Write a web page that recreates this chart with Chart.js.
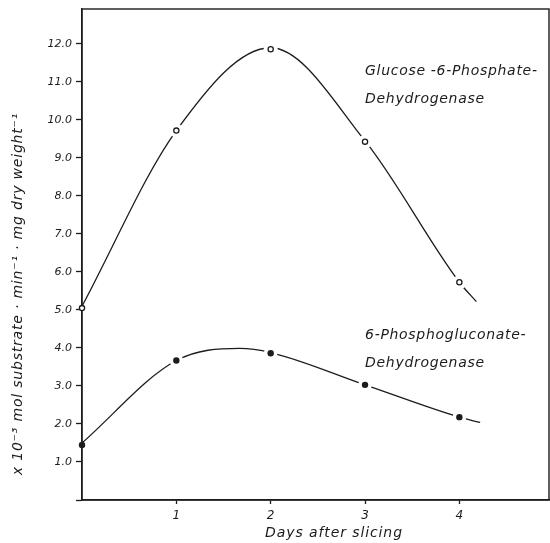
<!DOCTYPE html>
<html><head><meta charset="utf-8">
<script src="https://cdn.jsdelivr.net/npm/chart.js@4"></script>
<style>html,body{margin:0;padding:0;background:#fff;overflow:hidden} canvas{display:block}</style>
</head><body>
<canvas id="c" width="550" height="543"></canvas>
<script>
// ---- data ----
const days = [0, 1, 2, 3, 4];
const g6pdh = [5.05, 9.72, 11.86, 9.43, 5.73];
const pgd = [1.45, 3.67, 3.86, 3.03, 2.18];
// hand-drawn smooth curves
const g6pdhCurveX = [0, 1, 2, 3, 4, 4.18];
const g6pdhCurveY = [5.1, 9.72, 11.9, 9.45, 5.73, 5.22];
const pgdCurveX = [0, 1, 1.67, 2, 3, 4, 4.22];
const pgdCurveY = [1.5, 3.67, 3.99, 3.88, 3.03, 2.18, 2.04];
const xTickValues = [1, 2, 3, 4];
const yTickValues = [0, 1, 2, 3, 4, 5, 6, 7, 8, 9, 10, 11, 12];
const curveLabels = [
  ['Glucose -6-Phosphate-', 'Dehydrogenase'],
  ['6-Phosphogluconate-', 'Dehydrogenase']
];
const xTitle = 'Days after slicing';
const yTitle = 'x 10\u207B\u00B3 mol substrate \u00B7 min\u207B\u00B9 \u00B7 mg dry weight\u207B\u00B9';

const pts = (xs, ys) => xs.map((x, i) => ({x, y: ys[i]}));
const INK = '#1c1c1c';
const FONT = '"DejaVu Sans", sans-serif';

const labelPos = [ {x: 3.0, y: [11.27, 10.53]}, {x: 3.0, y: [4.32, 3.6]} ];

const extras = {
  id: 'extras',
  beforeDatasetsDraw(chart) {
    const {ctx, chartArea: a} = chart;
    ctx.save();
    ctx.strokeStyle = INK; ctx.lineWidth = 1.4;
    ctx.strokeRect(a.left, a.top, a.right - a.left, a.bottom - a.top);
    ctx.restore();
  },
  afterDraw(chart) {
    const {ctx, scales: {x, y}} = chart;
    ctx.save();
    ctx.fillStyle = INK;
    ctx.font = 'italic 14px ' + FONT;
    ctx.letterSpacing = '0.7px';
    ctx.textBaseline = 'middle'; ctx.textAlign = 'left';
    curveLabels.forEach((lines, i) => {
      lines.forEach((t, j) => {
        ctx.fillText(t, x.getPixelForValue(labelPos[i].x), y.getPixelForValue(labelPos[i].y[j]));
      });
    });
    ctx.textAlign = 'center';
    ctx.letterSpacing = '0.9px';
    ctx.fillText(xTitle, 334, 533);
    ctx.translate(18, 294);
    ctx.rotate(-Math.PI / 2);
    ctx.font = 'italic 14px ' + FONT;
    ctx.letterSpacing = '0.8px';
    ctx.fillText(yTitle, 0, 0);
    ctx.restore();
  }
};

new Chart(document.getElementById('c'), {
  type: 'scatter',
  data: {
    datasets: [
      { data: pts(days, g6pdh), order: 0, clip: false, pointRadius: 2.6, pointBorderWidth: 1.3,
        pointBackgroundColor: '#fff', pointBorderColor: INK, showLine: false },
      { data: pts(days, pgd), order: 0, clip: false, pointRadius: 3.2, pointBorderWidth: 0,
        pointBackgroundColor: INK, pointBorderColor: INK, showLine: false },
      { data: pts(days, g6pdh), order: 1, clip: false, pointBorderWidth: 0, pointBackgroundColor: '#ffffff',
        pointBorderColor: '#ffffff', pointRadius: c => c.dataIndex === 0 ? 0 : 7, showLine: false },
      { data: pts(days, pgd), order: 1, clip: false, pointBorderWidth: 0, pointBackgroundColor: '#ffffff',
        pointBorderColor: '#ffffff', pointRadius: c => c.dataIndex === 0 ? 0 : 6.8, showLine: false },
      { data: pts(g6pdhCurveX, g6pdhCurveY), order: 2, showLine: true, pointRadius: 0,
        borderColor: INK, borderWidth: 1.3, cubicInterpolationMode: 'monotone', clip: false },
      { data: pts(pgdCurveX, pgdCurveY), order: 2, showLine: true, pointRadius: 0,
        borderColor: INK, borderWidth: 1.3, cubicInterpolationMode: 'monotone', clip: false }
    ]
  },
  options: {
    responsive: false, animation: false, devicePixelRatio: 1,
    layout: { autoPadding: false, padding: { top: 9, right: 1, left: 0, bottom: 0 } },
    plugins: { legend: { display: false }, tooltip: { enabled: false } },
    scales: {
      x: {
        type: 'linear', min: 0, max: 4.95,
        afterBuildTicks: s => { s.ticks = xTickValues.map(v => ({value: v})); },
        afterFit: s => { s.height = 43; s.paddingLeft = 0; s.paddingRight = 0; },
        border: { color: INK, width: 1.4 },
        grid: { drawOnChartArea: false, tickLength: 4, color: INK, tickWidth: 1.3 },
        ticks: { color: INK, padding: 5, font: { family: FONT, style: 'italic', size: 12 },
                 callback: v => String(v) }
      },
      y: {
        type: 'linear', min: 0, max: 12.92,
        afterBuildTicks: s => { s.ticks = yTickValues.map(v => ({value: v})); },
        afterFit: s => { s.width = 82; s.paddingTop = 0; s.paddingBottom = 0; },
        border: { color: INK, width: 1.4 },
        grid: { drawOnChartArea: false, tickLength: 6, color: INK, tickWidth: 1.3 },
        ticks: { color: INK, padding: 4, font: { family: FONT, style: 'italic', size: 11 },
                 callback: v => v === 0 ? '' : v.toFixed(1) }
      }
    }
  },
  plugins: [extras]
});
</script>
</body></html>
